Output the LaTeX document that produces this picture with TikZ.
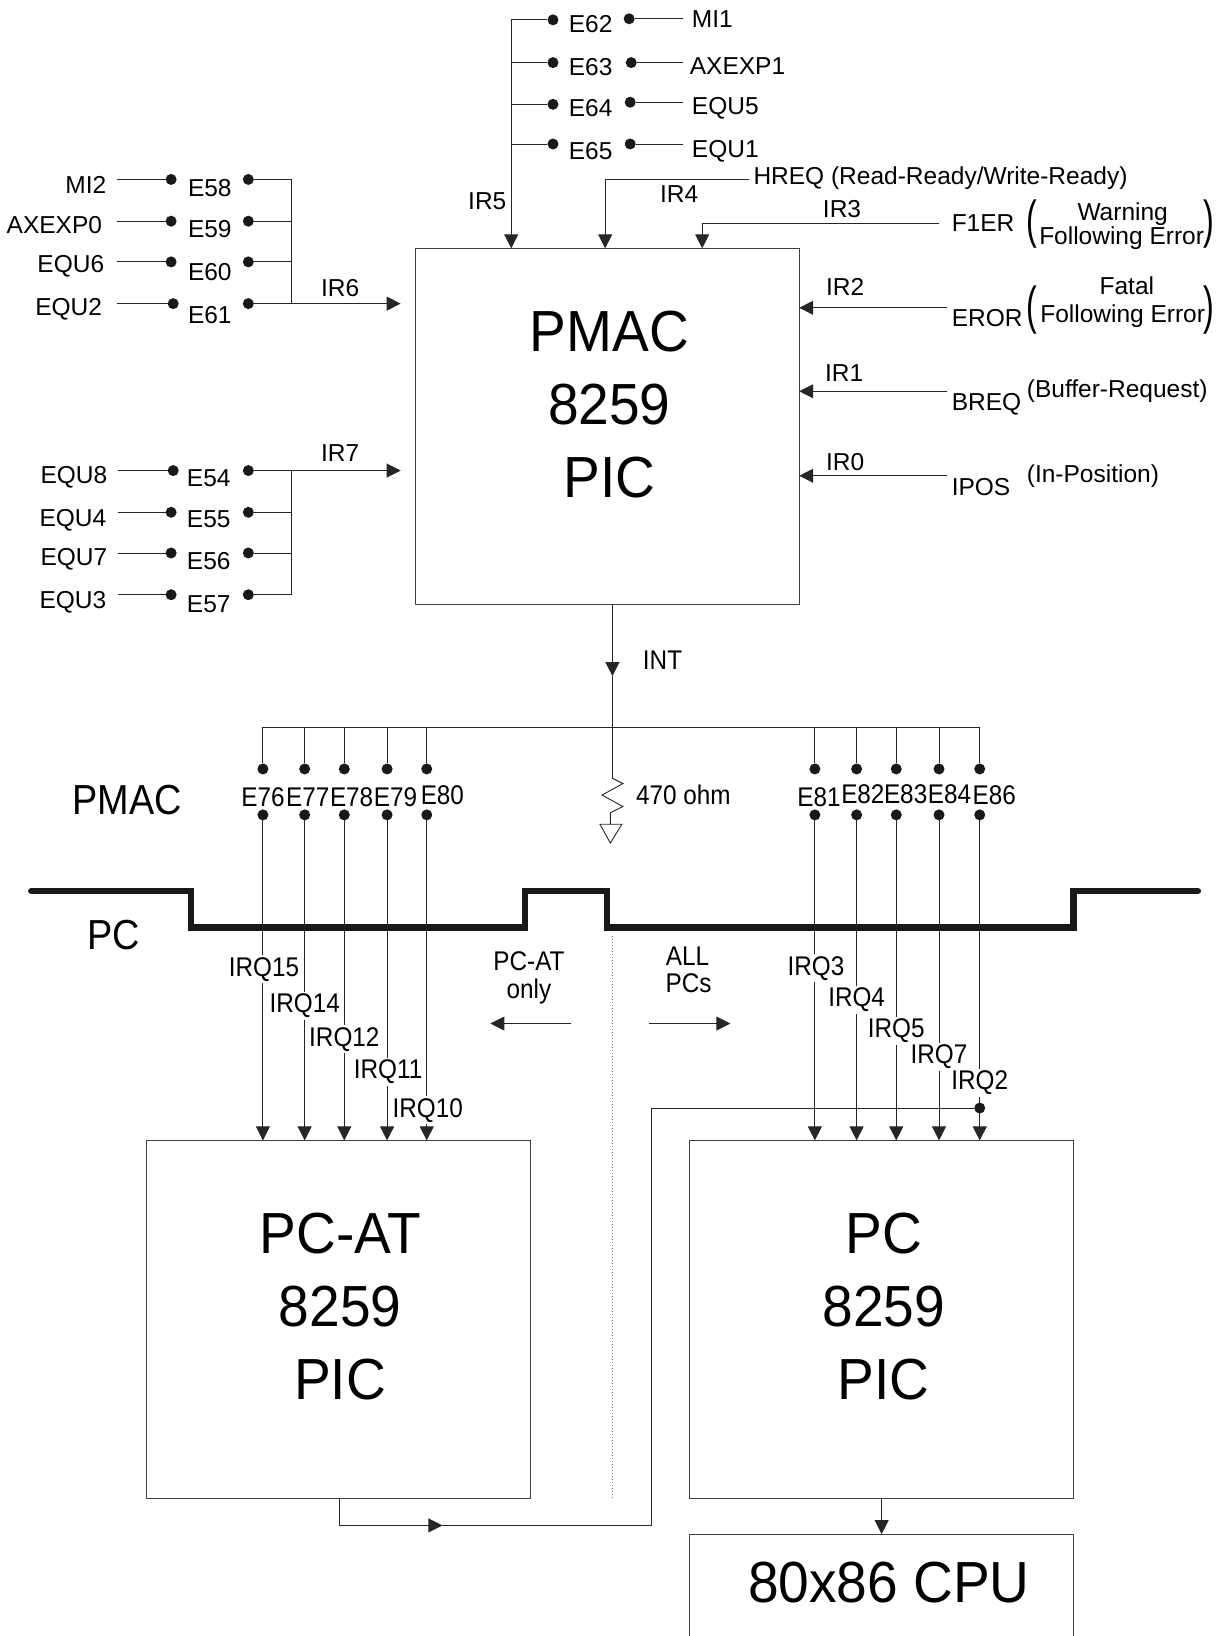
\documentclass[tikz,border=0pt]{standalone}
\usepackage{fontspec}
\setmainfont{Liberation Sans}
\newfontfamily\condfont[FakeStretch=0.9]{Liberation Sans}
\newfontfamily\chipfont[FakeStretch=0.95]{Liberation Sans}
\newfontfamily\parenfont[FakeStretch=0.62]{Liberation Sans}
\usetikzlibrary{positioning,arrows.meta}

\begin{document}
\begin{tikzpicture}[
  x=1.0434pt, y=-1.0434pt,
  lbl/.style={font=\fontsize{24.5}{24.5}\selectfont, inner sep=0pt},
  lblw/.style={lbl, anchor=west},
  lble/.style={lbl, anchor=east},
  low/.style={font=\condfont\fontsize{27}{27}\selectfont, inner sep=0pt},
  irq/.style={low, fill=white, inner xsep=1pt, inner ysep=2pt},
  big/.style={font=\condfont\fontsize{42}{42}\selectfont, inner sep=0pt},
  chiptxt/.style={font=\chipfont\fontsize{58}{73}\selectfont, align=center, inner sep=0pt},
  paren/.style={font=\parenfont\fontsize{52}{52}\selectfont, inner sep=0pt},
  box/.style={rectangle, draw=black!75, line width=0.9pt, minimum width=384pt, outer sep=0pt, inner sep=0pt},
  pin/.style={circle, fill=black!90, inner sep=0pt, minimum size=11pt, outer sep=0pt},
  wire/.style={draw=black!85, line width=0.9pt},
  sig/.style={wire, -{Triangle[length=14pt,width=14pt]}},
  rail/.style={draw=black!90, line width=6.5pt, line cap=round, line join=miter}
]
\path[use as bounding box, clip] (0,0) rectangle (1174,1568);

% chips
\node[box, minimum height=355.8pt] (pmac) at (582,408.5) {};
\node[box, minimum height=357.9pt] (pcat) at (324,1264.5) {};
\node[box, minimum height=357.9pt] (pc)   at (845,1264.5) {};
\node[box, minimum height=160pt]   (cpu)  at (845,1547) {};
\node[chiptxt] (pmactxt) at (584,388) {PMAC\\8259\\PIC};
\node[chiptxt] (pcattxt) at (326,1252) {PC-AT\\8259\\PIC};
\node[chiptxt] (pctxt)   at (847,1252) {PC\\8259\\PIC};
\node[chiptxt] (cputxt)  at (852,1517) {80x86 CPU};

% IR5 group
\node[pin] (d62) at (530,19) {};
\node[pin] (d63) at (530,60) {};
\node[pin] (d64) at (530,100) {};
\node[pin] (d65) at (530,138) {};
\node[pin] (s62) at (603,18) {};
\node[pin] (s63) at (605,60) {};
\node[pin] (s64) at (604,98) {};
\node[pin] (s65) at (604,138) {};
\node[lblw] (e62) at (545,23) {E62};
\node[lblw] (e63) at (545,64) {E63};
\node[lblw] (e64) at (545,104) {E64};
\node[lblw] (e65) at (545,145) {E65};
\node[lblw] (mi1) at (663,18) {MI1};
\node[lblw] (axexp1) at (661,63) {AXEXP1};
\node[lblw] (equ5) at (663,104) {EQU5};
\node[lblw] (equ1) at (663,145) {EQU1};
\node[lbl] (ir5) at (467,193) {IR5};
\coordinate (b5) at (490,19);
\coordinate (e1) at (655,18);
\coordinate (e2) at (655,60);
\coordinate (e3) at (655,98);
\coordinate (e4) at (655,138);
\draw[wire] (d62) -- (b5);
\draw[wire] (d63) -- (d63 -| b5);
\draw[wire] (d64) -- (d64 -| b5);
\draw[wire] (d65) -- (d65 -| b5);
\draw[sig] (b5) -- (b5 |- pmac.north);
\draw[wire] (s62) -- (e1);
\draw[wire] (s63) -- (e2);
\draw[wire] (s64) -- (e3);
\draw[wire] (s65) -- (e4);

% IR4..IR0
\node[lblw] (hreq) at (722,171) {HREQ (Read-Ready/Write-Ready)};
\node[lbl] (ir4) at (651,186) {IR4};
\node[lblw] (f1er) at (912,214) {F1ER};
\node[lbl] (ir3) at (807,200) {IR3};
\node[lblw] (eror) at (912,305) {EROR};
\node[lbl] (ir2) at (810,275) {IR2};
\node[lblw] (breq) at (912,387) {BREQ};
\node[lbl] (ir1) at (809,358) {IR1};
\node[lblw] (ipos) at (912,467) {IPOS};
\node[lbl] (ir0) at (810,443) {IR0};
\coordinate (h1) at (718,172);
\coordinate (h2) at (580,172);
\coordinate (f1) at (900,214);
\coordinate (f2) at (673,214);
\coordinate (r2) at (908,295);
\coordinate (r1) at (908,375);
\coordinate (r0) at (908,456);
\draw[sig] (h1) -- (h2) -- (h2 |- pmac.north);
\draw[sig] (f1) -- (f2) -- (f2 |- pmac.north);
\draw[sig] (r2) -- (r2 -| pmac.east);
\draw[sig] (r1) -- (r1 -| pmac.east);
\draw[sig] (r0) -- (r0 -| pmac.east);
\node[lbl] (warn) at (1076,205) {Warning};
\node[lbl] (ferr1) at (1075,228) {Following Error};
\node[lbl] (fatal) at (1080,274) {Fatal};
\node[lbl] (ferr2) at (1076,303) {Following Error};
\node[paren] (pl1) at (989,215) {(};
\node[paren] (pr1) at (1159,215) {)};
\node[paren] (pl2) at (989,297) {(};
\node[paren] (pr2) at (1159,297) {)};
\node[lblw] (buf) at (984,375) {(Buffer-Request)};
\node[lblw] (inpos) at (984,456) {(In-Position)};

% IR6 group
\node[lble] (mi2) at (102,177) {MI2};
\node[lble] (axexp0) at (98,216) {AXEXP0};
\node[lble] (equ6) at (100,255) {EQU6};
\node[lble] (equ2) at (98,296) {EQU2};
\coordinate (a58) at (112,172);
\coordinate (a59) at (112,212);
\coordinate (a60) at (112,251);
\coordinate (a61) at (112,291);
\node[pin] (c58) at (164,172) {};
\node[pin] (c59) at (164,212) {};
\node[pin] (c60) at (164,251) {};
\node[pin] (c61) at (166,291) {};
\node[lblw] (e58) at (180,180) {E58};
\node[lblw] (e59) at (180,220) {E59};
\node[lblw] (e60) at (180,261) {E60};
\node[lblw] (e61) at (180,302) {E61};
\node[pin] (d58) at (238,172) {};
\node[pin] (d59) at (238,212) {};
\node[pin] (d60) at (238,251) {};
\node[pin] (d61) at (238,291) {};
\node[lbl] (ir6) at (326,276) {IR6};
\coordinate (j6) at (279,172);
\coordinate (t6) at (384,291);
\draw[wire] (a58) -- (c58);
\draw[wire] (a59) -- (c59);
\draw[wire] (a60) -- (c60);
\draw[wire] (a61) -- (c61);
\draw[wire] (d58) -- (j6) -- (j6 |- d61);
\draw[wire] (d59) -- (d59 -| j6);
\draw[wire] (d60) -- (d60 -| j6);
\draw[sig] (d61) -- (t6);

% IR7 group
\node[lble] (equ8) at (103,457) {EQU8};
\node[lble] (equ4) at (102,499) {EQU4};
\node[lble] (equ7) at (103,536) {EQU7};
\node[lble] (equ3) at (102,577) {EQU3};
\coordinate (a54) at (113,451);
\coordinate (a55) at (113,491);
\coordinate (a56) at (113,530);
\coordinate (a57) at (113,570);
\node[pin] (c54) at (166,451) {};
\node[pin] (c55) at (164,491) {};
\node[pin] (c56) at (164,530) {};
\node[pin] (c57) at (164,570) {};
\node[lblw] (e54) at (179,458) {E54};
\node[lblw] (e55) at (179,498) {E55};
\node[lblw] (e56) at (179,538) {E56};
\node[lblw] (e57) at (179,579) {E57};
\node[pin] (d54) at (238,451) {};
\node[pin] (d55) at (238,491) {};
\node[pin] (d56) at (238,530) {};
\node[pin] (d57) at (238,570) {};
\node[lbl] (ir7) at (326,434) {IR7};
\coordinate (j7) at (279,570);
\coordinate (t7) at (384,451);
\draw[wire] (a54) -- (c54);
\draw[wire] (a55) -- (c55);
\draw[wire] (a56) -- (c56);
\draw[wire] (a57) -- (c57);
\draw[wire] (d57) -- (j7) -- (j7 |- d54);
\draw[wire] (d55) -- (d55 -| j7);
\draw[wire] (d56) -- (d56 -| j7);
\draw[sig] (d54) -- (t7);

% INT and pull-down
\node[low] (int) at (635,633) {INT};
\node[low] (ohm) at (655,762) {470 ohm};
\coordinate (out) at (587,579);
\coordinate (tip) at (587,648);
\coordinate (rtop) at (587,746);
\coordinate (gnd) at (585,790);
\draw[sig] (out) -- (tip);
\draw[wire] (tip) -- (rtop) -- (597,751) -- (577,762) -- (597,773) -- (585,779) -- (gnd);
\draw[wire, line join=miter] (575,790) -- (596,790) -- (585,808) -- cycle;

% jumpers to the PC
\coordinate (busl) at (252,697);
\coordinate (busr) at (939,697);
\draw[wire] (busl) -- (busr);
\node[pin] (t76) at (252,737) {};
\node[pin] (t77) at (292,737) {};
\node[pin] (t78) at (330,737) {};
\node[pin] (t79) at (371,737) {};
\node[pin] (t80) at (409,737) {};
\node[pin] (t81) at (781,737) {};
\node[pin] (t82) at (821,737) {};
\node[pin] (t83) at (859,737) {};
\node[pin] (t84) at (900,737) {};
\node[pin] (t86) at (939,737) {};
\node[pin] (b76) at (252,781) {};
\node[pin] (b77) at (292,781) {};
\node[pin] (b78) at (330,781) {};
\node[pin] (b79) at (371,781) {};
\node[pin] (b80) at (409,781) {};
\node[pin] (b81) at (781,781) {};
\node[pin] (b82) at (821,781) {};
\node[pin] (b83) at (859,781) {};
\node[pin] (b84) at (900,781) {};
\node[pin] (b86) at (939,781) {};
\node[low] (e76) at (252,764) {E76};
\node[low] (e77) at (295,764) {E77};
\node[low] (e78) at (337,764) {E78};
\node[low] (e79) at (379,764) {E79};
\node[low] (e80) at (424,762) {E80};
\node[low] (e81) at (785,764) {E81};
\node[low] (e82) at (827,761) {E82};
\node[low] (e83) at (868,761) {E83};
\node[low] (e84) at (910,761) {E84};
\node[low] (e86) at (953,762) {E86};
\draw[wire] (t76 |- busl) -- (t76);
\draw[wire] (t77 |- busl) -- (t77);
\draw[wire] (t78 |- busl) -- (t78);
\draw[wire] (t79 |- busl) -- (t79);
\draw[wire] (t80 |- busl) -- (t80);
\draw[wire] (t81 |- busl) -- (t81);
\draw[wire] (t82 |- busl) -- (t82);
\draw[wire] (t83 |- busl) -- (t83);
\draw[wire] (t84 |- busl) -- (t84);
\draw[wire] (t86 |- busl) -- (t86);

% PMAC/PC boundary
\coordinate (r1a) at (30,854);
\coordinate (r1b) at (1148,854);
\draw[rail] (r1a) -- (183,854) -- (183,889) -- (503,889) -- (503,854) -- (582,854) -- (582,889) -- (1029,889) -- (1029,854) -- (r1b);
\node[big] (pmaclbl) at (122,767) {PMAC};
\node[big] (pclbl) at (109,896) {PC};

\draw[sig] (b76) -- (b76 |- pcat.north);
\draw[sig] (b77) -- (b77 |- pcat.north);
\draw[sig] (b78) -- (b78 |- pcat.north);
\draw[sig] (b79) -- (b79 |- pcat.north);
\draw[sig] (b80) -- (b80 |- pcat.north);
\draw[sig] (b81) -- (b81 |- pc.north);
\draw[sig] (b82) -- (b82 |- pc.north);
\draw[sig] (b83) -- (b83 |- pc.north);
\draw[sig] (b84) -- (b84 |- pc.north);
\draw[sig] (b86) -- (b86 |- pc.north);
\node[irq] (irq15) at (253,929) {IRQ15};
\node[irq] (irq14) at (292,964) {IRQ14};
\node[irq] (irq12) at (330,996) {IRQ12};
\node[irq] (irq11) at (372,1027) {IRQ11};
\node[irq] (irq10) at (410,1064) {IRQ10};
\node[irq] (irq3) at (782,928) {IRQ3};
\node[irq] (irq4) at (821,958) {IRQ4};
\node[irq] (irq5) at (859,988) {IRQ5};
\node[irq] (irq7) at (900,1013) {IRQ7};
\node[irq] (irq2) at (939,1038) {IRQ2};

% cascade
\node[pin] (casc) at (939,1062) {};
\coordinate (c1) at (325,1462);
\coordinate (c2) at (424,1462);
\coordinate (c3) at (624,1462);
\draw[sig] (c1 |- pcat.south) -- (c1) -- (c2);
\draw[wire] (c2) -- (c3) -- (c3 |- casc) -- (casc);
\draw[sig] (845,1436) -- (cpu.north);

% split
\node[low] (at1) at (507,921) {PC-AT};
\node[low] (at2) at (507,950) {only};
\node[low] (all1) at (659,916) {ALL};
\node[low] (all2) at (660,942) {PCs};
\coordinate (la) at (547,981);
\coordinate (lb) at (470,981);
\coordinate (ra) at (622,981);
\coordinate (rb) at (700,981);
\draw[sig] (la) -- (lb);
\draw[sig] (ra) -- (rb);
\coordinate (sa) at (587,897);
\coordinate (sb) at (587,1435);
\draw[black!50, line width=0.8pt, dash pattern=on 1pt off 2pt] (sa) -- (sb);
\end{tikzpicture}
\end{document}
